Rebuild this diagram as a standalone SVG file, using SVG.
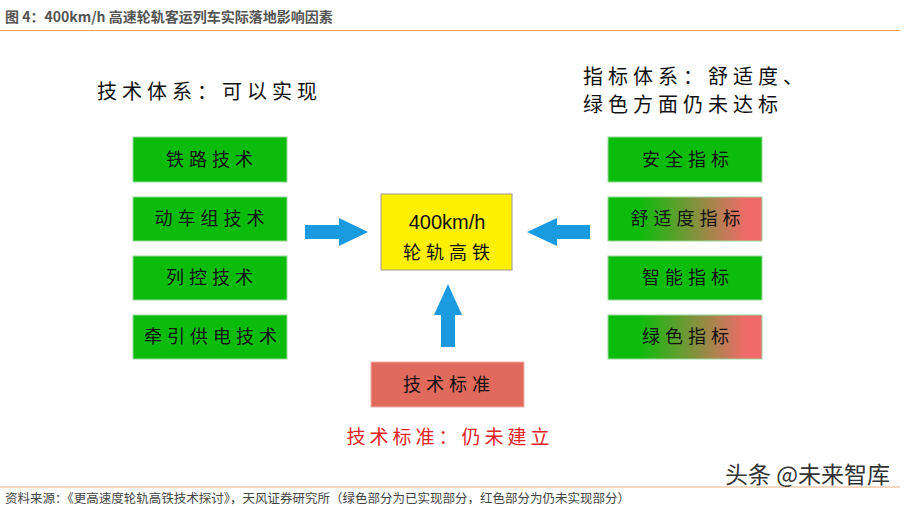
<svg xmlns="http://www.w3.org/2000/svg" width="906" height="506" viewBox="0 0 906 506">
<defs>
<linearGradient id="gr" x1="0" y1="0" x2="1" y2="0">
<stop offset="0.2" stop-color="#0CBC0C"/>
<stop offset="0.9" stop-color="#F06A6A"/>
</linearGradient>
<style>
.cjk{font-family:"Noto Sans CJK SC","Noto Sans",sans-serif;}
.hd{font-size:20px;fill:#111;letter-spacing:5px;}
.bx{stroke:#9AD89A;stroke-width:1;}
.g{fill:#0CBC0C;}
.bt{font-size:18px;fill:#111;text-anchor:middle;letter-spacing:5px;}
.arr{fill:#1A9BE0;}
</style>
</defs>
<rect width="906" height="506" fill="#fff"/>
<text class="cjk" x="5" y="22" font-size="14" font-weight="bold" fill="#555">图 4：400km/h 高速轮轨客运列车实际落地影响因素</text>
<line x1="0" y1="30.5" x2="900" y2="30.5" stroke="#F0A060" stroke-width="1.2"/>

<text class="cjk hd" x="97" y="99">技术体系：可以实现</text>
<text class="cjk hd" x="583" y="84" letter-spacing="3">指标体系：舒适度、</text>
<text class="cjk hd" x="583" y="112">绿色方面仍未达标</text>

<g id="n-rail"><rect class="g bx" x="133" y="137" width="154" height="45"/><text class="cjk bt" x="212" y="166">铁路技术</text></g>
<g id="n-emu"><rect class="g bx" x="133" y="197" width="154" height="44"/><text class="cjk bt" x="212" y="225">动车组技术</text></g>
<g id="n-ctrl"><rect class="g bx" x="133" y="256" width="154" height="44"/><text class="cjk bt" x="212" y="284">列控技术</text></g>
<g id="n-power"><rect class="g bx" x="133" y="315" width="154" height="44"/><text class="cjk bt" x="213" y="343" letter-spacing="4">牵引供电技术</text></g>

<g id="n-safe"><rect class="g bx" x="608" y="137" width="154" height="45"/><text class="cjk bt" x="688" y="166">安全指标</text></g>
<g id="n-comfort"><rect fill="url(#gr)" class="bx" x="608" y="197" width="154" height="44"/><text class="cjk bt" x="688" y="225">舒适度指标</text></g>
<g id="n-smart"><rect class="g bx" x="608" y="256" width="154" height="44"/><text class="cjk bt" x="688" y="284">智能指标</text></g>
<g id="n-green"><rect fill="url(#gr)" class="bx" x="608" y="315" width="154" height="44"/><text class="cjk bt" x="688" y="343">绿色指标</text></g>

<g id="n-center"><rect x="381" y="194" width="131" height="76" fill="#FFF000" stroke="#999" stroke-width="1"/>
<text x="447" y="229" font-family="Liberation Sans, Arial, sans-serif" font-size="20" fill="#111" text-anchor="middle">400km/h</text>
<text class="cjk bt" x="449" y="259">轮轨高铁</text></g>

<g id="n-std"><rect x="371" y="362" width="153" height="45" fill="#E06A5C" stroke="#F0B0A8" stroke-width="1"/><text class="cjk bt" x="449" y="391">技术标准</text></g>

<text class="cjk" x="450" y="444" font-size="19" fill="#E02424" text-anchor="middle" letter-spacing="4">技术标准：仍未建立</text>

<g id="connectors">
<polygon class="arr" points="305,225 339,225 339,218 368,232 339,246 339,239 305,239"/>
<polygon class="arr" points="590,225 557,225 557,218 527,232 557,246 557,239 590,239"/>
<polygon class="arr" points="441,347 441,315 434,315 448,284 462,315 455,315 455,347"/>
</g>

<line x1="0" y1="487" x2="900" y2="487" stroke="#F0B080" stroke-width="1.2"/>
<text class="cjk" x="5" y="503" font-size="12.5" fill="#444">资料来源：《更高速度轮轨高铁技术探讨》，天风证券研究所（绿色部分为已实现部分，红色部分为仍未实现部分）</text>
<text class="cjk" x="725" y="483" font-size="23" fill="#333">头条 @未来智库</text>
</svg>
